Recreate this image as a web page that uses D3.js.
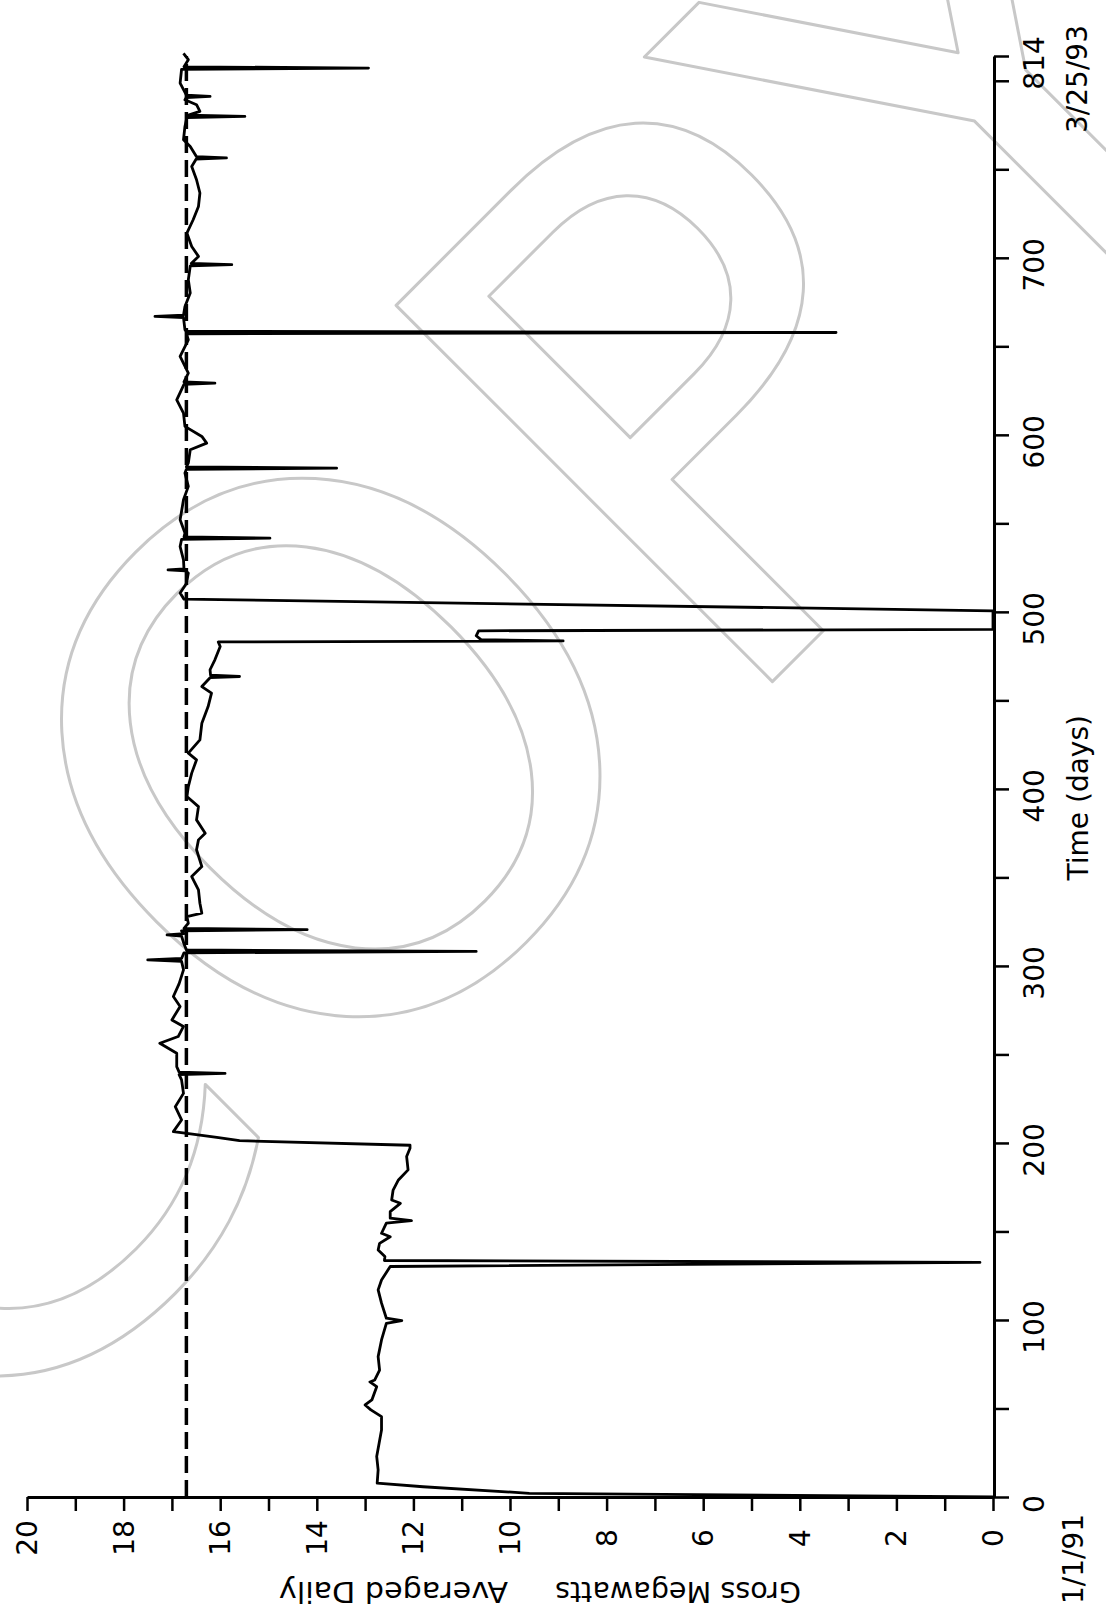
<!DOCTYPE html>
<html><head><meta charset="utf-8">
<script src="https://cdn.jsdelivr.net/npm/d3@7"></script>
<style>body{margin:0;background:#fff} svg{display:block}</style>
</head><body>
<svg id="c" width="1106" height="1609"></svg>
<script>
// ---- data ----
const dayValues = [0,2.1,5.8,7.8,15.3,22.9,30.4,37.9,45.4,49.2,52,54.8,62.3,65,66.1,71.7,79.3,88.7,98.1,99.6,101,109.5,117,122.6,130.2,132.5,133.6,135.8,139.5,143.3,147,149,154.7,156.1,157.5,161.2,165.9,167.8,173.4,179.1,184.8,192.3,197,198.7,201.3,203.2,205.6,206.4,213,220.5,228,235.6,238.6,239.3,240,243.1,250.7,256.3,260.1,265.8,269.5,277.1,282.7,290,297.8,302.6,303.4,304.2,307.4,308.2,309,312.5,316.8,317.5,318.2,319.8,320.5,321.2,324.1,327.9,329.8,335.4,343,350.5,356.1,365.6,371.2,375,382.5,390,395.7,401.3,408.9,416.4,420.2,427.7,437.1,446.5,454.1,457.8,462.8,463.5,464.2,467.3,472.9,480.4,483.0,483.6,484.3,486.5,489.3,490.1,500.6,507.2,510.6,516,521.9,523.1,523.7,524.3,529.4,536.9,540.9,541.6,542.3,544.5,552,563.3,570.9,578.4,580.5,581.2,581.9,584.1,591.6,595.3,599.1,604.8,612.3,619.8,628.5,629.2,629.9,634.9,644.3,653.7,657.1,657.8,658.5,659.4,666.2,666.9,667.6,672.5,680.1,687.6,695.4,696.1,696.8,700.8,706.4,714,721.5,729,736.6,744.1,751.6,755.7,756.4,757.1,762.9,766.7,774.2,779.2,779.9,780.6,782.7,786.5,789.3,790.5,791.2,791.9,798.7,806.5,807.2,807.9,811.9,815.5];
const mwValues = [0.0,9.6,11.8,12.75,12.73,12.76,12.71,12.66,12.66,12.88,13.0,12.86,12.76,12.9,12.8,12.7,12.73,12.66,12.56,12.24,12.56,12.66,12.73,12.66,12.48,0.27,12.6,12.59,12.73,12.7,12.48,12.66,12.56,12.04,12.48,12.48,12.27,12.45,12.42,12.31,12.11,12.14,12.07,12.07,15.6,16.07,16.73,16.97,16.8,16.93,16.76,16.8,16.85,15.9,16.85,16.9,16.9,17.25,16.87,16.76,17.0,16.83,16.97,16.85,16.76,16.8,17.5,16.8,16.75,10.7,16.7,16.75,16.8,17.1,16.75,16.8,14.2,16.75,16.66,16.69,16.38,16.42,16.45,16.59,16.38,16.49,16.45,16.31,16.49,16.45,16.69,16.66,16.59,16.49,16.66,16.42,16.38,16.25,16.18,16.38,16.21,15.6,16.2,16.21,16.11,16.0,16.04,8.9,10.6,10.7,10.65,0.0,0.0,16.75,16.83,16.7,16.66,16.72,17.08,16.75,16.76,16.83,16.8,14.97,16.75,16.73,16.83,16.76,16.66,16.73,16.7,13.59,16.7,16.66,16.62,16.28,16.38,16.73,16.76,16.9,16.75,16.11,16.75,16.66,16.83,16.66,16.7,3.25,16.7,16.73,16.76,17.35,16.76,16.73,16.62,16.66,16.62,15.76,16.6,16.45,16.59,16.69,16.56,16.45,16.42,16.49,16.59,16.5,15.87,16.49,16.62,16.76,16.73,16.69,15.49,16.66,16.42,16.49,16.73,16.7,16.21,16.7,16.83,16.8,12.93,16.75,16.66,16.76];
const referenceMW = 16.7;
const timeTicks = [0,50,100,150,200,250,300,350,400,450,500,550,600,650,700,750,800,814];
const timeLabels = [0,100,200,300,400,500,600,700,814];
const mwTicks = [0,1,2,3,4,5,6,7,8,9,10,11,12,13,14,15,16,17,18,19,20];
const mwLabels = [0,2,4,6,8,10,12,14,16,18,20];
const startDate = "1/1/91";
const endDate = "3/25/93";
const xTitle = "Time (days)";
const yTitleA = "Gross Megawatts";
const yTitleB = "Averaged Daily";
const watermark = "COPY";

// ---- drawing ----
const FONT = "DejaVu Sans";
const svg = d3.select("#c");
svg.append("rect").attr("width",1106).attr("height",1609).attr("fill","#fff");

const t = d3.scaleLinear().domain([0,814]).range([1497,56]);   // time runs upward
const m = d3.scaleLinear().domain([0,20]).range([993,27]);     // MW runs leftward

// watermark (outlined letters, diagonal)
svg.append("text").text(watermark)
  .attr("transform","translate(-45,1499) rotate(-45)")
  .attr("text-anchor","start")
  .attr("font-family",FONT).attr("font-size",730)
  .attr("fill","none").attr("stroke","#c8c8c8").attr("stroke-width",3)
  .attr("stroke-linejoin","round");

// axes
const gT = svg.append("g").attr("transform","translate(994,0)")
  .call(d3.axisRight(t).tickValues(timeTicks).tickSize(15).tickSizeOuter(0).tickFormat(""));
gT.select(".domain").attr("stroke-width",3);
gT.selectAll(".tick line").attr("stroke-width",2.5);

const gM = svg.append("g").attr("transform","translate(0,1497)")
  .call(d3.axisBottom(m).tickValues(mwTicks).tickSize(14).tickSizeOuter(0).tickFormat(""));
gM.select(".domain").attr("stroke-width",3);
gM.selectAll(".tick line").attr("stroke-width",2.5);

// tick labels
svg.append("g").selectAll("text").data(mwLabels).join("text")
  .attr("transform", d => `translate(${m(d)},1538) rotate(-90)`)
  .attr("text-anchor","middle").attr("dy","0.36em")
  .attr("font-family",FONT).attr("font-size",28).text(d => d);

svg.append("g").selectAll("text").data(timeLabels).join("text")
  .attr("transform", d => `translate(1034,${t(d)+7}) rotate(-90)`)
  .attr("text-anchor","middle").attr("dy","0.36em")
  .attr("font-family",FONT).attr("font-size",28).text(d => d);

svg.append("text").text(endDate)
  .attr("transform", `translate(1077,${t(814)+23}) rotate(-90)`)
  .attr("text-anchor","middle").attr("dy","0.36em")
  .attr("font-family",FONT).attr("font-size",28);
svg.append("text").text(startDate)
  .attr("transform", `translate(1073,${t(0)+62}) rotate(-90)`)
  .attr("text-anchor","middle").attr("dy","0.36em")
  .attr("font-family",FONT).attr("font-size",28);

// axis titles
svg.append("text").text(xTitle)
  .attr("transform", `translate(1088,${t(395)}) rotate(-90)`)
  .attr("text-anchor","middle")
  .attr("font-family",FONT).attr("font-size",28);
svg.append("text").text(yTitleA)
  .attr("transform","translate(801,1582) rotate(180)")
  .attr("textLength",246).attr("lengthAdjust","spacingAndGlyphs")
  .attr("font-family",FONT).attr("font-size",28);
svg.append("text").text(yTitleB)
  .attr("transform","translate(508,1582) rotate(180)")
  .attr("textLength",229).attr("lengthAdjust","spacingAndGlyphs")
  .attr("font-family",FONT).attr("font-size",28);

// reference (dashed) line
svg.append("line")
  .attr("x1",m(referenceMW)).attr("x2",m(referenceMW))
  .attr("y1",t(0)).attr("y2",t(814))
  .attr("stroke","#000").attr("stroke-width",3.5).attr("stroke-dasharray","17,7");

// data trace
const pts = dayValues.map((d,i) => [d, mwValues[i]]);
svg.append("path").datum(pts)
  .attr("d", d3.line().x(p => m(p[1])).y(p => t(p[0])))
  .attr("fill","none").attr("stroke","#000").attr("stroke-width",2.8)
  .attr("stroke-linejoin","round");
</script>
</body></html>
